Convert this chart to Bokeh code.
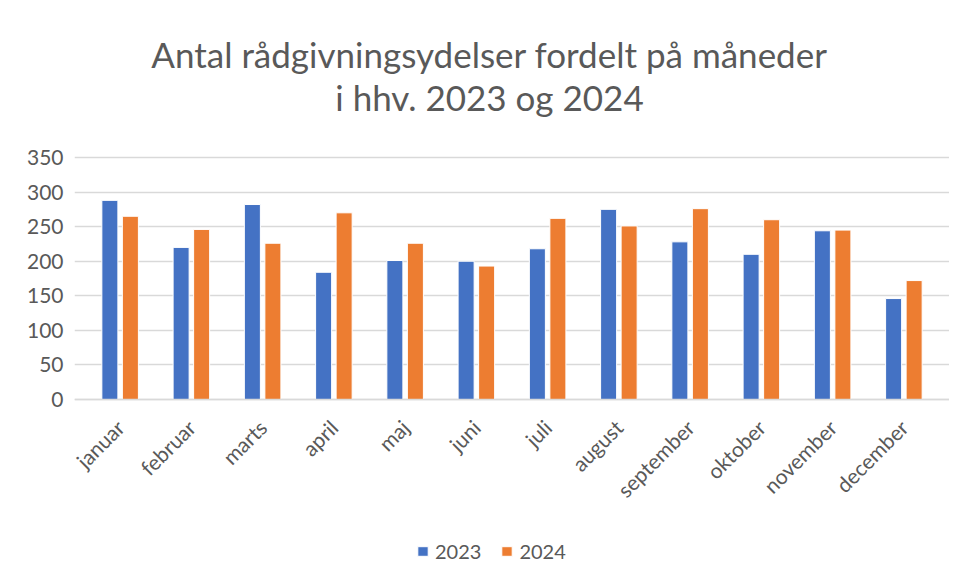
from math import pi
from bokeh.plotting import figure
from bokeh.models import (ColumnDataSource, FactorRange, Range1d, Legend,
                          LegendItem, FixedTicker, Label)
from bokeh.transform import dodge
from bokeh.embed import file_html
from bokeh.resources import INLINE

months = ["januar", "februar", "marts", "april", "maj", "juni", "juli",
          "august", "september", "oktober", "november", "december"]
y2023 = [288, 220, 282, 184, 201, 200, 218, 275, 228, 210, 244, 146]
y2024 = [265, 246, 226, 270, 226, 193, 262, 251, 276, 260, 245, 172]
y_ticks = [0, 50, 100, 150, 200, 250, 300, 350]
title_lines = ["Antal rådgivningsydelser fordelt på måneder", "i hhv. 2023 og 2024"]
series_names = ["2023", "2024"]

FONT = "Lato"
GREY = "#595959"
BLUE = "#4472C4"
ORANGE = "#ED7D31"

W, H = 949, 572
LEFT, RIGHT = 74, 0
PAD = 0.1404                        # category padding, so labels are not clipped
TOP_PX, ZERO_PX = 157, 399          # pixel rows of the 350 and 0 grid lines
ppu = (ZERO_PX - TOP_PX) / 350.0
y_lo = -(H - ZERO_PX) / ppu
y_hi = 350 + TOP_PX / ppu

src = ColumnDataSource(data=dict(month=months, y2023=y2023, y2024=y2024))

p = figure(width=W, height=H,
           x_range=FactorRange(factors=months, range_padding=PAD,
                               range_padding_units="absolute"),
           y_range=Range1d(y_lo, y_hi), output_backend="svg", toolbar_location=None,
           title=None, min_border_left=LEFT, min_border_right=RIGHT,
           min_border_top=0, min_border_bottom=0)
p.outline_line_color = None

r1 = p.vbar(x=dodge("month", -0.144, range=p.x_range), top="y2023", width=0.225,
            source=src, fill_color=BLUE, line_color="white", line_width=1)
r2 = p.vbar(x=dodge("month", 0.144, range=p.x_range), top="y2024", width=0.225,
            source=src, fill_color=ORANGE, line_color="white", line_width=1)

p.xgrid.grid_line_color = None
p.yaxis.ticker = FixedTicker(ticks=y_ticks)
p.ygrid.grid_line_color = "#D9D9D9"
p.ygrid.grid_line_width = 1.5

for ax in (p.xaxis[0], p.yaxis[0]):
    ax.axis_line_color = None
    ax.major_tick_line_color = None
    ax.minor_tick_line_color = None
    ax.major_label_text_font = FONT
    ax.major_label_text_font_size = "21px"
    ax.major_label_text_color = GREY
p.xaxis.fixed_location = 0
p.xaxis.axis_line_color = "#D9D9D9"
p.xaxis.axis_line_width = 1.5
p.xaxis.major_label_orientation = pi / 4
p.xaxis.major_label_standoff = 18
p.yaxis.major_label_standoff = 5

for txt, base in zip(title_lines, [53, 96]):
    p.add_layout(Label(x=415, y=H - base, x_units="screen", y_units="screen",
                       text=txt, text_font=FONT, text_font_size="35px",
                       text_color=GREY, text_align="center",
                       text_baseline="alphabetic"))

legend = Legend(items=[LegendItem(label=series_names[0], renderers=[r1]),
                       LegendItem(label=series_names[1], renderers=[r2])],
                location=(342, 9), orientation="horizontal",
                glyph_width=13, glyph_height=12, label_standoff=6, spacing=19,
                padding=0, margin=0, border_line_color=None,
                background_fill_alpha=0, label_text_font=FONT,
                label_text_font_size="20px", label_text_color=GREY)
p.add_layout(legend, "center")

open("out.html", "w").write(file_html(p, INLINE))
